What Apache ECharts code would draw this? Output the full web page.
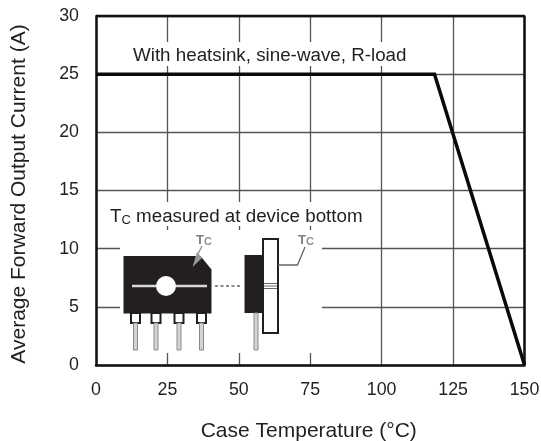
<!DOCTYPE html>
<html><head><meta charset="utf-8">
<style>html,body{margin:0;padding:0;background:#fff}#c{width:541px;height:441px}</style>
<script src="https://cdn.jsdelivr.net/npm/echarts@6/dist/echarts.min.js"></script></head>
<body><div id="c"></div>
<script>
const temperature=[0,118.5,150];
const current=[25,25,0];
const note1='With heatsink, sine-wave, R-load';
const xName='Case Temperature (°C)';
const yName='Average Forward Output Current (A)';
const font='"Liberation Sans",Arial,sans-serif';
const dark='#231f20';
const rect=(x,y,w,h,fill,stroke,lw)=>({type:'rect',shape:{x,y,width:w,height:h},style:{fill,stroke:stroke||null,lineWidth:lw||0},z:20,silent:true});
const line=(x1,y1,x2,y2,stroke,lw,dash)=>({type:'line',shape:{x1,y1,x2,y2},style:{stroke,lineWidth:lw,lineDash:dash||null},z:21,silent:true});
const tc=(x,y)=>({type:'text',x,y,z:22,silent:true,style:{text:'{a|T}{b|C}',rich:{a:{fontFamily:font,fontSize:13,fontWeight:'bold',fill:'#808080'},b:{fontFamily:font,fontSize:11,fontWeight:'bold',fill:'#909090',padding:[3,0,0,0]}}}});
const g=[
 rect(128,42,282,24,'#fff'),
 rect(108,202,258,24,'#fff'),
 rect(120,230,202,123,'#fff'),
 {type:'text',x:133,y:46,z:22,silent:true,style:{text:note1,fontFamily:font,fontSize:18.8,fill:dark}},
 {type:'text',x:110,y:207,z:22,silent:true,style:{text:'{a|T}{b|C}{a| measured at device bottom}',rich:{a:{fontFamily:font,fontSize:18.8,fill:dark},b:{fontFamily:font,fontSize:13,fill:dark,padding:[7,0,0,0]}}}},
 {type:'polygon',z:21,silent:true,shape:{points:[[123.5,256],[200.5,256],[211.5,269.5],[211.5,313.5],[123.5,313.5]]},style:{fill:'#231f20'}},
 line(132,286,207,286,'#d8d8d8',2.5),
 {type:'circle',z:22,silent:true,shape:{cx:166,cy:286,r:10},style:{fill:'#fff'}},
 line(197,256,202,246,'#999',1.5),
 {type:'polygon',z:22,silent:true,shape:{points:[[192.5,267],[202,258],[197,252]]},style:{fill:'#999'}},
 tc(196,233),
 ...[[131,140],[151.5,160.5],[174.5,183.5],[197,206]].flatMap(([a,b])=>[
   rect(a,313,b-a,10,'#fff','#231f20',2),
   rect((a+b)/2-2,323,4,27,'#d4d4d4','#888',1)
 ]),
 line(215,286,240,286,'#666',1.6,[3,2.5]),
 rect(244.5,255,19,58,'#231f20'),
 rect(254,313,4,37,'#d4d4d4','#888',1),
 rect(263,239,15,94,'#fff','#231f20',2),
 line(264,283.5,277,283.5,'#666',1),line(264,286,277,286,'#666',1),line(264,288.5,277,288.5,'#666',1),
 {type:'polyline',z:21,silent:true,shape:{points:[[278,265],[297.5,265],[305,247]]},style:{stroke:'#666',lineWidth:1.3,fill:null}},
 tc(298,233)
];
const chart=echarts.init(document.getElementById('c'),null,{renderer:'canvas'});
chart.setOption({
 animation:false,backgroundColor:'#fff',
 grid:{left:96,right:16.5,top:16,bottom:76,containLabel:false,outerBoundsMode:'none'},
 xAxis:{type:'value',min:0,max:150,interval:25,
  name:xName,nameLocation:'middle',nameGap:56,
  nameTextStyle:{fontFamily:font,fontSize:21,color:dark,padding:[0,3,0,0]},
  axisLine:{show:true,lineStyle:{color:'#111',width:2.5}},axisTick:{show:false},
  axisLabel:{fontFamily:font,fontSize:17.8,color:dark,margin:16},
  splitLine:{show:true,lineStyle:{color:'#555',width:1.3}}},
 yAxis:{type:'value',min:0,max:30,interval:5,
  name:yName,nameLocation:'middle',nameGap:66,nameRotate:90,
  nameTextStyle:{fontFamily:font,fontSize:21,color:dark,padding:[0,7,0,0]},
  axisLine:{show:true,lineStyle:{color:'#111',width:2.5}},axisTick:{show:false},
  axisLabel:{fontFamily:font,fontSize:17.8,color:dark,margin:17},
  splitLine:{show:true,lineStyle:{color:'#555',width:1.3}}},
 series:[
  {type:'line',data:temperature.map((t,i)=>[t,current[i]]),showSymbol:false,symbol:'none',clip:false,z:10,
   lineStyle:{color:'#0a0a0a',width:3.5,cap:'butt',join:'miter'}},
  {type:'line',data:[[0,30],[150,30],[150,0]],symbol:'none',silent:true,clip:false,z:9,
   lineStyle:{color:'#111',width:2.5}}
 ],
 graphic:{elements:g}
});
</script></body></html>
